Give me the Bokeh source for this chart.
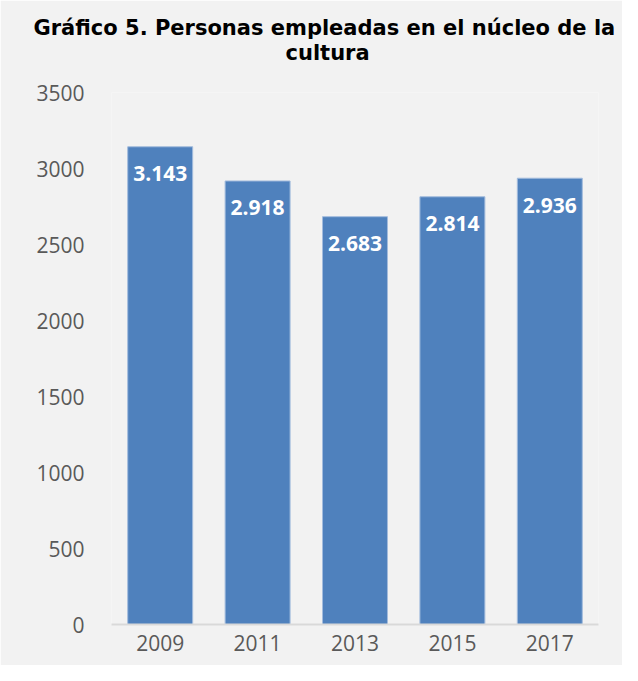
from bokeh.plotting import figure
from bokeh.models import (ColumnDataSource, FactorRange, Range1d, LabelSet, Title,
                          SingleIntervalTicker)
from bokeh.core.properties import value
from bokeh.embed import file_html
from bokeh.resources import INLINE

years = ["2009", "2011", "2013", "2015", "2017"]
personas = [3143, 2918, 2683, 2814, 2936]
etiquetas = ["3.143", "2.918", "2.683", "2.814", "2.936"]

title_line1 = "Gráfico 5. Personas empleadas en el núcleo de la"
title_line2 = "cultura"

BG = "#F2F2F2"

src = ColumnDataSource(dict(x=years, y=personas, lab=etiquetas))

p = figure(x_range=FactorRange(factors=years, range_padding=0),
           y_range=Range1d(0, 3500),
           width=622, height=665, title_location=None,
           output_backend="svg", toolbar_location=None,
           min_border_left=111, min_border_right=24,
           min_border_top=92, min_border_bottom=41,
           background_fill_color=BG, border_fill_color=BG)

title_style = dict(text_font="DejaVu Sans", text_font_style="bold",
                   text_font_size="21px", text_color="#000000",
                   align="left", vertical_align="bottom")
p.add_layout(Title(text=title_line2, offset=174, standoff=56, **title_style), "above")
p.add_layout(Title(text=title_line1, offset=-78, standoff=-58, **title_style), "above")

p.vbar(x="x", top="y", width=0.667, source=src,
       fill_color="#4F81BD", line_color="#A3BCDD", line_width=1)

labels = LabelSet(x="x", y="y", text="lab", source=src,
                  y_offset=-27, text_align="center", text_baseline="middle",
                  text_color="white", text_font=value("Open Sans"),
                  text_font_style="bold", text_font_size="21px")
p.add_layout(labels)

p.grid.visible = False
p.outline_line_color = None

p.yaxis.ticker = SingleIntervalTicker(interval=500)
p.yaxis.axis_line_color = None
p.yaxis.major_tick_line_color = None
p.yaxis.minor_tick_line_color = None
p.yaxis.major_tick_out = 0
p.yaxis.major_label_standoff = 23
p.yaxis.major_label_text_font = "Open Sans"
p.yaxis.major_label_text_font_size = "21px"
p.yaxis.major_label_text_color = "#595959"

xax = p.below[0]
xax.axis_line_color = "#D9D9D9"
xax.axis_line_width = 2
xax.major_tick_line_color = None
xax.minor_tick_line_color = None
xax.major_tick_out = 0
xax.major_label_standoff = 10
xax.major_label_text_font = "Open Sans"
xax.major_label_text_font_size = "21px"
xax.major_label_text_color = "#595959"

open("out.html", "w").write(file_html(p, INLINE))
